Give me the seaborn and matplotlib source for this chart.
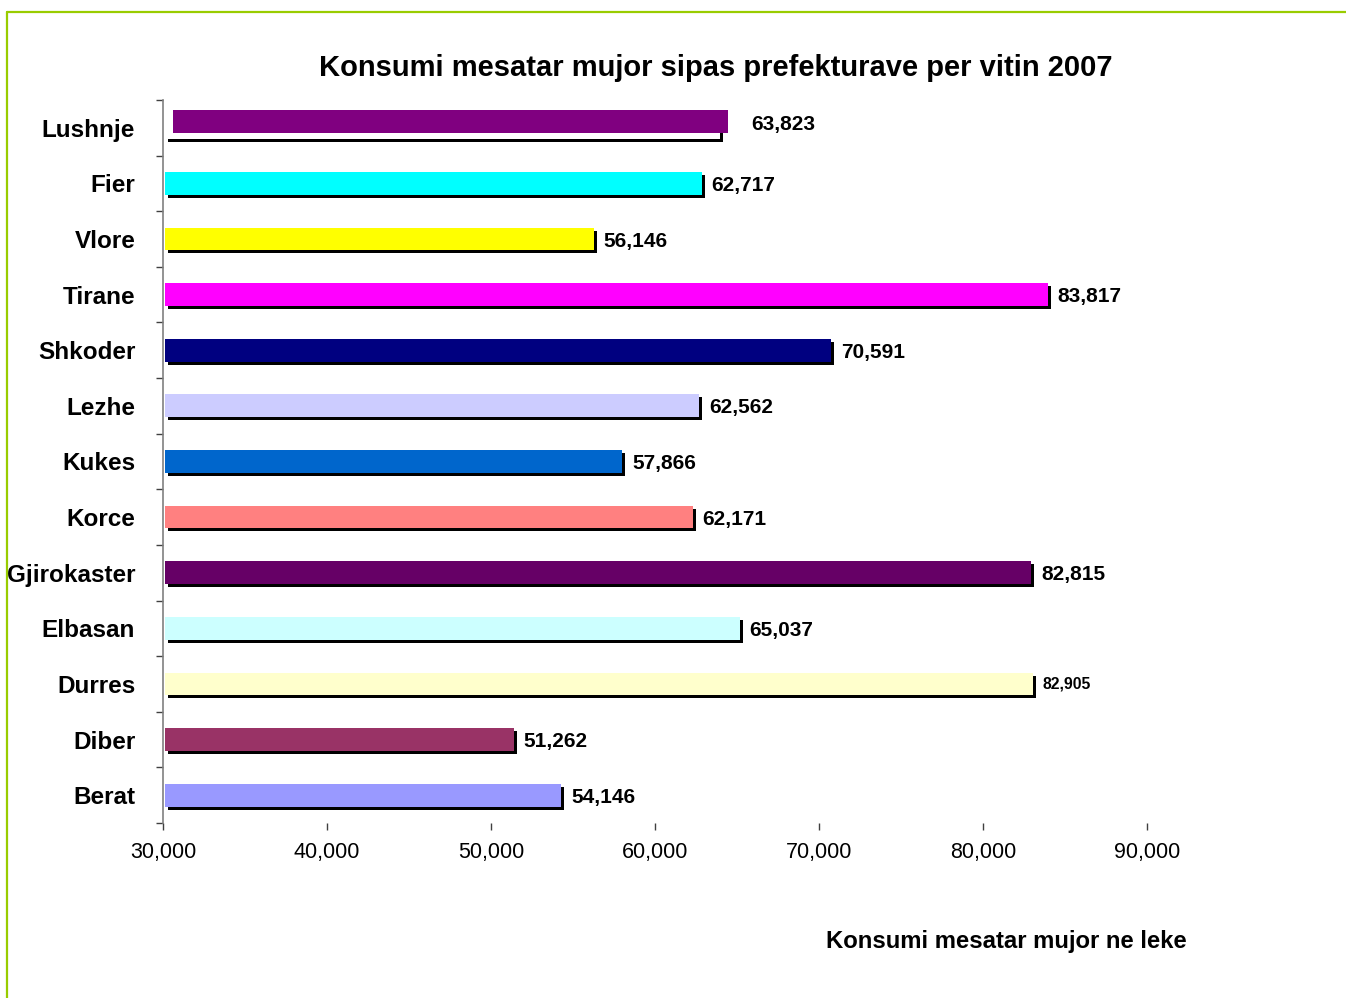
# Konsumi mesatar mujor sipas prefekturave - bar chart horizontal me hije
import matplotlib
matplotlib.use("Agg")
import matplotlib.pyplot as plt
import matplotlib.transforms as mtransforms
from matplotlib.patches import Rectangle
from matplotlib.lines import Line2D
from matplotlib.ticker import FixedLocator, FuncFormatter
import seaborn as sn
import pandas as pd
import numpy as np

# %%
prefekturat = ['Lushnje', 'Fier', 'Vlore', 'Tirane', 'Shkoder', 'Lezhe', 'Kukes',
               'Korce', 'Gjirokaster', 'Elbasan', 'Durres', 'Diber', 'Berat']
konsumi = [63823, 62717, 56146, 83817, 70591, 62562, 57866,
           62171, 82815, 65037, 82905, 51262, 54146]
ngjyrat = ['#800080', '#00FFFF', '#FFFF00', '#FF00FF', '#000080', '#CCCCFF', '#0066CC',
           '#FF8080', '#660066', '#CCFFFF', '#FFFFCC', '#993366', '#9999FF']
x_ticks = [30000, 40000, 50000, 60000, 70000, 80000, 90000]
x_min = 30000

df = pd.DataFrame({'prefektura': prefekturat, 'konsumi': konsumi})

# %%
sn.set_style("white")
plt.rcParams['font.family'] = ['Liberation Sans', 'DejaVu Sans']
plt.rcParams['text.color'] = 'black'
plt.rcParams['xtick.color'] = 'black'
plt.rcParams['ytick.color'] = 'black'

fig = plt.figure(figsize=(13.46, 9.98), dpi=100)
ax = fig.add_axes([0.1211, 0.1754, 0.731, 0.7244])

px = 72 / fig.dpi  # 1 pixel ne points
hije = mtransforms.ScaledTranslation(5 / fig.dpi, -3 / fig.dpi, fig.dpi_scale_trans)
fillim = mtransforms.ScaledTranslation(2 / fig.dpi, 0, fig.dpi_scale_trans)

# hija e zeze
sn.barplot(data=df, x='konsumi', y='prefektura', orient='h', color='black',
           width=0.41, ax=ax, saturation=1)
for p in ax.patches:
    p.set_x(x_min)
    p.set_width(p.get_width() - x_min)
    p.set_transform(ax.transData + hije)
    p.set_zorder(1)
    p.set_linewidth(0)
n_hije = len(ax.patches)

# bare kryesore
sn.barplot(data=df, x='konsumi', y='prefektura', hue='prefektura', palette=ngjyrat,
           orient='h', width=0.41, ax=ax, legend=False, saturation=1)
for p in list(ax.patches[n_hije:]):
    p.set_zorder(2)
    p.set_linewidth(0)
    p.set_x(x_min)
    p.set_width(p.get_width() - x_min)
    p.set_transform(ax.transData + fillim)
    yc = p.get_y() + p.get_height() / 2
    if abs(yc) < 0.3:
        # Lushnje: drejtkendesh i bardhe ne vend, ngjyra e zhvendosur
        bardhe = Rectangle((p.get_x(), p.get_y()), p.get_width(), p.get_height(),
                           facecolor='white', edgecolor='none', zorder=2,
                           transform=ax.transData + fillim)
        ax.add_patch(bardhe)
        shift = mtransforms.ScaledTranslation(10 / fig.dpi, 6 / fig.dpi, fig.dpi_scale_trans)
        p.set_transform(ax.transData + shift)
        p.set_zorder(3)

# etiketat e vlerave
for i, v in enumerate(konsumi):
    dx = 12
    fs = 15
    dy = -2
    if prefekturat[i] == 'Lushnje':
        dx = 34
        dy = 3
    if prefekturat[i] == 'Durres':
        fs = 11.3
        dy = 0
    ax.annotate(f"{v:,}", xy=(v, i), xytext=(dx * px, dy * px), textcoords='offset points',
                ha='left', va='center', fontsize=fs, fontweight='bold', color='black',
                annotation_clip=False, zorder=5)

ax.set_xlim(x_min, 90000)
ax.set_ylim(12.5, -0.5)
ax.xaxis.set_major_locator(FixedLocator(x_ticks))
ax.xaxis.set_major_formatter(FuncFormatter(lambda x, pos: f"{int(x):,}"))
ax.tick_params(axis='x', which='major', length=5, width=1, color='#404040',
               direction='out', pad=9, labelsize=15.5, labelcolor='black', bottom=True)
ax.tick_params(axis='y', which='major', length=0, pad=20, labelsize=17.5, labelcolor='black')
for lbl in ax.get_yticklabels():
    lbl.set_fontweight('bold')
ax.yaxis.set_minor_locator(FixedLocator(np.arange(-0.5, 13, 1)))
ax.tick_params(axis='y', which='minor', length=5, width=1, color='#404040', left=True)

for s in ['top', 'right', 'bottom']:
    ax.spines[s].set_visible(False)
ax.spines['left'].set_color('#808080')
ax.spines['left'].set_linewidth(1.2)
ax.set_xlabel("")
ax.set_ylabel("")

fig.text(0.532, 0.932, "Konsumi mesatar mujor sipas prefekturave per vitin 2007",
         ha='center', va='center', fontsize=21, fontweight='bold')
fig.text(0.748, 0.057, "Konsumi mesatar mujor ne leke",
         ha='center', va='center', fontsize=17.2, fontweight='bold')

# korniza e gjelber
fig.add_artist(Line2D([7 / 1346, 1], [1 - 12 / 998, 1 - 12 / 998],
                      transform=fig.transFigure, color='#99CC00', lw=1.6))
fig.add_artist(Line2D([7 / 1346, 7 / 1346], [0, 1 - 12 / 998],
                      transform=fig.transFigure, color='#99CC00', lw=1.6))

plt.savefig("out.png", dpi=100)
